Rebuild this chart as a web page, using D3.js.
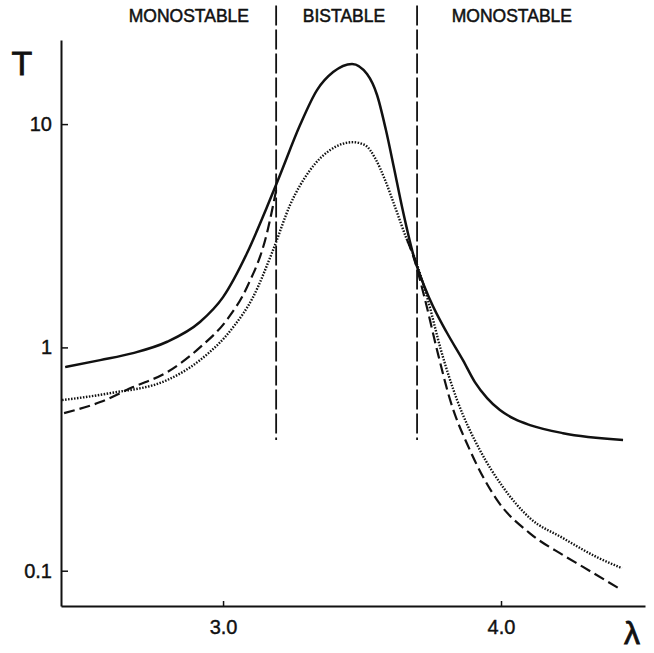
<!DOCTYPE html>
<html>
<head>
<meta charset="utf-8">
<script src="https://cdn.jsdelivr.net/npm/d3@7"></script>
<style>
  body { margin: 0; background: #fff; }
  svg { display: block; font-family: "Liberation Sans", Arial, sans-serif; }
</style>
</head>
<body>
<svg id="chart" width="654" height="653"></svg>
<script>
// Values (lambda on x, T on a log axis)
const solidLambda = [2.432, 2.558, 2.676, 2.799, 2.917, 3.000, 3.086, 3.158, 3.205, 3.277, 3.338, 3.396, 3.464, 3.518, 3.554, 3.586, 3.615, 3.644, 3.683, 3.745, 3.806, 3.863, 3.906, 3.950, 3.996, 4.050, 4.104, 4.223, 4.439];
const solidT = [0.816, 0.877, 0.943, 1.06, 1.30, 1.68, 2.64, 4.25, 5.92, 9.9, 14.2, 17.1, 18.6, 16.75, 13.5, 9.4, 6.36, 4.25, 2.64, 1.63, 1.16, 0.877, 0.699, 0.593, 0.524, 0.477, 0.449, 0.413, 0.385];

const dashedLeftLambda = [2.428, 2.558, 2.676, 2.799, 2.917, 3.014, 3.086, 3.158, 3.191];
const dashedLeftT = [0.508, 0.569, 0.664, 0.775, 1.00, 1.33, 1.86, 3.25, 5.06];
const dashedRightLambda = [3.662, 3.683, 3.727, 3.770, 3.817, 3.888, 3.986, 4.104, 4.223, 4.295, 4.435];
const dashedRightT = [3.03, 2.59, 1.63, 0.972, 0.581, 0.347, 0.207, 0.147, 0.1175, 0.104, 0.0818];

const dottedLambda = [2.421, 2.594, 2.799, 2.917, 3.036, 3.108, 3.180, 3.241, 3.313, 3.385, 3.468, 3.511, 3.547, 3.583, 3.619, 3.662, 3.683, 3.737, 3.784, 3.842, 3.924, 4.007, 4.104, 4.223, 4.345, 4.435];
const dottedT = [0.581, 0.624, 0.714, 0.877, 1.23, 1.68, 2.73, 4.34, 6.22, 7.65, 8.30, 8.05, 7.04, 5.61, 4.25, 3.03, 2.64, 1.63, 0.972, 0.581, 0.347, 0.237, 0.172, 0.140, 0.115, 0.1027];

// region boundaries and labels
const boundaries = [3.191, 3.698];
const boundaryT = [0.385, 34];
const regionNames = ["MONOSTABLE", "BISTABLE", "MONOSTABLE"];
const regionCenters = [2.877, 3.435, 4.039];

const xTicks = [3.0, 4.0];
const yTicks = [0.1, 1, 10];

const svg = d3.select("#chart");

const x = d3.scaleLinear().domain([2.417, 4.518]).range([61, 645]);
const y = d3.scaleLog().domain([0.0695, 23.8]).range([606, 40]);

function zip(ls, ts) {
  return ls.map((l, i) => ({ l: l, t: ts[i] }));
}

const line = d3.line()
  .x(d => x(d.l))
  .y(d => y(d.t))
  .curve(d3.curveMonotoneX);

// axes
const yAxis = svg.append("g")
  .attr("transform", `translate(${x.range()[0]},0)`)
  .call(d3.axisLeft(y).tickValues(yTicks).tickFormat(d3.format("")).tickSizeInner(-7).tickSizeOuter(0).tickPadding(9));

const xAxis = svg.append("g")
  .attr("transform", `translate(0,${y.range()[0]})`)
  .call(d3.axisBottom(x).tickValues(xTicks).tickFormat(d3.format(".1f")).tickSizeInner(-5).tickSizeOuter(0).tickPadding(14));

[yAxis, xAxis].forEach(g => {
  g.select(".domain").attr("stroke", "#111").attr("stroke-width", 2);
  g.selectAll(".tick line").attr("stroke", "#111").attr("stroke-width", 1.5);
  g.selectAll(".tick text")
    .attr("fill", "#111")
    .attr("stroke", "#111")
    .attr("stroke-width", 0.4)
    .style("font-family", "'Liberation Sans', Arial, sans-serif")
    .style("font-size", "20px");
});

// axis titles
svg.append("text")
  .attr("x", 22).attr("y", 75)
  .attr("text-anchor", "middle")
  .style("font-size", "34px")
  .attr("fill", "#111")
  .attr("stroke", "#111")
  .attr("stroke-width", 0.8)
  .text("T");

svg.append("text")
  .attr("x", 632).attr("y", 644)
  .attr("text-anchor", "middle")
  .style("font-size", "32px")
  .attr("fill", "#111")
  .attr("stroke", "#111")
  .attr("stroke-width", 0.8)
  .text("λ");

// region boundaries
svg.selectAll(".boundary")
  .data(boundaries)
  .enter()
  .append("line")
  .attr("class", "boundary")
  .attr("x1", d => x(d)).attr("x2", d => x(d))
  .attr("y1", y(boundaryT[1])).attr("y2", y(boundaryT[0]))
  .attr("stroke", "#111")
  .attr("stroke-width", 1.8)
  .attr("stroke-dasharray", "20,4");

svg.selectAll(".region")
  .data(regionNames)
  .enter()
  .append("text")
  .attr("class", "region")
  .attr("x", (d, i) => x(regionCenters[i]))
  .attr("y", 22)
  .attr("text-anchor", "middle")
  .style("font-size", "17.5px")
  .attr("fill", "#111")
  .attr("stroke", "#111")
  .attr("stroke-width", 0.5)
  .text(d => d);

// curves
svg.append("path")
  .datum(zip(solidLambda, solidT))
  .attr("d", line)
  .attr("fill", "none")
  .attr("stroke", "#111")
  .attr("stroke-width", 2.5);

[zip(dashedLeftLambda, dashedLeftT), zip(dashedRightLambda, dashedRightT)].forEach(pts => {
  svg.append("path")
    .datum(pts)
    .attr("d", line)
    .attr("fill", "none")
    .attr("stroke", "#111")
    .attr("stroke-width", 2.2)
    .attr("stroke-dasharray", "11,5");
});

svg.append("path")
  .datum(zip(dottedLambda, dottedT))
  .attr("d", line)
  .attr("fill", "none")
  .attr("stroke", "#111")
  .attr("stroke-width", 2.4)
  .attr("stroke-dasharray", "1.5,1.5");
</script>
</body>
</html>
